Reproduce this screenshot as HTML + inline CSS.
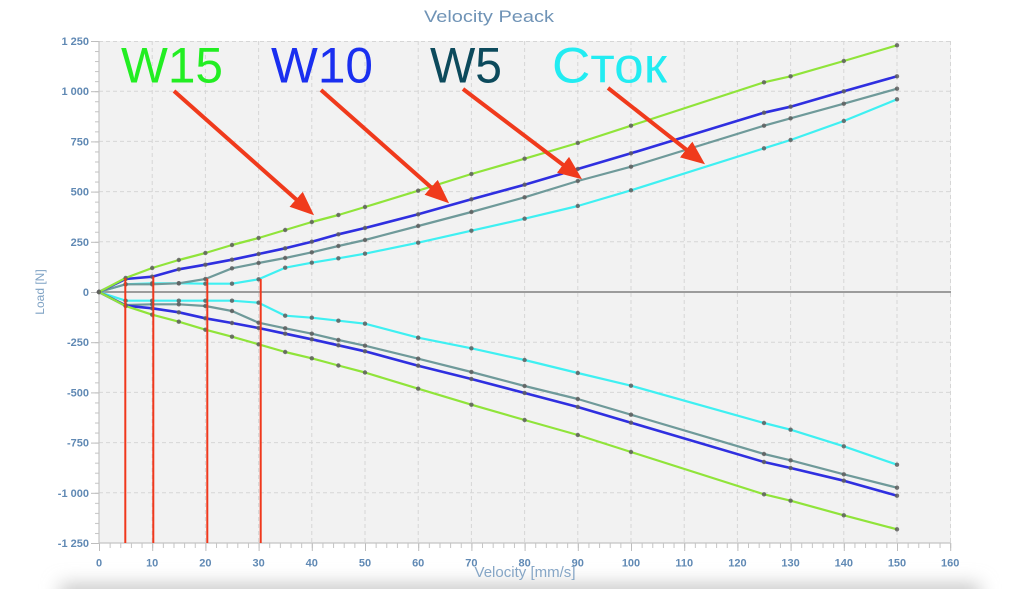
<!DOCTYPE html>
<html><head><meta charset="utf-8"><style>
html,body{margin:0;padding:0;background:#fff;}
svg{display:block;}
text{font-family:"Liberation Sans",Arial,sans-serif;}
</style></head><body>
<svg width="1024" height="589" viewBox="0 0 1024 589" xmlns="http://www.w3.org/2000/svg">
<defs>
<filter id="blur" x="-20%" y="-200%" width="140%" height="500%"><feGaussianBlur stdDeviation="9"/></filter>
<pattern id="ymin" x="0" y="41" width="10" height="10.04" patternUnits="userSpaceOnUse"><rect x="0" y="0" width="10" height="1" fill="#c4c4c4"/></pattern>
<pattern id="ymaj" x="0" y="41" width="10" height="50.2" patternUnits="userSpaceOnUse"><rect x="0" y="0" width="10" height="1" fill="#bdbdbd"/></pattern>
<pattern id="xmin" x="99" y="0" width="10.64" height="10" patternUnits="userSpaceOnUse"><rect x="0" y="0" width="1" height="10" fill="#c4c4c4"/></pattern>
<pattern id="xmaj" x="99" y="0" width="53.2" height="10" patternUnits="userSpaceOnUse"><rect x="0" y="0" width="1" height="10" fill="#bdbdbd"/></pattern>
<marker id="dot" markerUnits="userSpaceOnUse" markerWidth="6" markerHeight="6" refX="3" refY="3" viewBox="0 0 6 6"><circle cx="3" cy="3" r="2.2" fill="#5e5e5e" fill-opacity="0.85"/></marker>
<marker id="ah" markerUnits="userSpaceOnUse" markerWidth="24" markerHeight="20" refX="0.5" refY="5" viewBox="0 0 10 10" preserveAspectRatio="none" orient="auto"><path d="M0,0 L10,5 L0,10 z" fill="#f03a1c"/></marker>
</defs>

<!-- bottom shadow -->
<rect x="60" y="584" width="920" height="22" fill="#c8c8c8" filter="url(#blur)"/>

<!-- plot background -->
<rect x="99" y="41" width="852" height="502" fill="#f2f2f2"/>

<!-- grid -->
<g stroke="#d6d6d6" stroke-width="1" stroke-dasharray="4,3" fill="none">
<line x1="152.2" y1="41" x2="152.2" y2="543"/>
<line x1="205.4" y1="41" x2="205.4" y2="543"/>
<line x1="258.6" y1="41" x2="258.6" y2="543"/>
<line x1="311.8" y1="41" x2="311.8" y2="543"/>
<line x1="365" y1="41" x2="365" y2="543"/>
<line x1="418.2" y1="41" x2="418.2" y2="543"/>
<line x1="471.4" y1="41" x2="471.4" y2="543"/>
<line x1="524.6" y1="41" x2="524.6" y2="543"/>
<line x1="577.8" y1="41" x2="577.8" y2="543"/>
<line x1="631" y1="41" x2="631" y2="543"/>
<line x1="684.2" y1="41" x2="684.2" y2="543"/>
<line x1="737.4" y1="41" x2="737.4" y2="543"/>
<line x1="790.6" y1="41" x2="790.6" y2="543"/>
<line x1="843.8" y1="41" x2="843.8" y2="543"/>
<line x1="897" y1="41" x2="897" y2="543"/>
<line x1="950.5" y1="41" x2="950.5" y2="543"/>
<line x1="99" y1="41.5" x2="951" y2="41.5"/>
<line x1="99" y1="91.2" x2="951" y2="91.2"/>
<line x1="99" y1="141.4" x2="951" y2="141.4"/>
<line x1="99" y1="191.6" x2="951" y2="191.6"/>
<line x1="99" y1="241.8" x2="951" y2="241.8"/>
<line x1="99" y1="342.2" x2="951" y2="342.2"/>
<line x1="99" y1="392.4" x2="951" y2="392.4"/>
<line x1="99" y1="442.6" x2="951" y2="442.6"/>
<line x1="99" y1="492.8" x2="951" y2="492.8"/>
</g>

<!-- zero line -->
<line x1="99" y1="292" x2="951" y2="292" stroke="#9c9c9c" stroke-width="2"/>

<!-- axes & ticks -->
<rect x="95" y="41" width="4" height="503" fill="url(#ymin)"/>
<rect x="91" y="41" width="8" height="503" fill="url(#ymaj)"/>
<rect x="99" y="543" width="853" height="5" fill="url(#xmin)"/>
<rect x="99" y="543" width="853" height="8" fill="url(#xmaj)"/>
<line x1="99" y1="41" x2="99" y2="543.5" stroke="#c4c4c4" stroke-width="1.2"/>
<line x1="98.5" y1="543" x2="951" y2="543" stroke="#c4c4c4" stroke-width="1.2"/>

<!-- series -->
<g fill="none" stroke-linejoin="round" marker-start="url(#dot)" marker-mid="url(#dot)" marker-end="url(#dot)">
<polyline stroke="#3ff0f2" stroke-width="2.2" points="99,292 125.6,284.3 152.2,283.3 178.8,283.3 205.4,283.7 232,283.7 258.6,279.3 285.2,267.7 311.8,262.7 338.4,258.3 365,253.7 418.2,242.7 471.4,230.7 524.6,218.7 577.8,206 631,190.3 764,148.3 790.6,140 843.8,121 897,99.3"/>
<polyline stroke="#3ff0f2" stroke-width="2.2" points="99,292 125.6,300.7 152.2,300.7 178.8,300.7 205.4,300.7 232,300.7 258.6,302.7 285.2,315.7 311.8,317.7 338.4,320.7 365,323.7 418.2,337.7 471.4,348.3 524.6,360 577.8,373 631,385.7 764,423 790.6,429.7 843.8,446.3 897,464.7"/>
<polyline stroke="#6f9a9a" stroke-width="2.2" points="99,292 125.6,284.3 152.2,284.3 178.8,283.3 205.4,279 232,268.3 258.6,263 285.2,258 311.8,252.3 338.4,246 365,240 418.2,226 471.4,212 524.6,197.3 577.8,181 631,166.7 764,125.7 790.6,118.3 843.8,103.7 897,88.7"/>
<polyline stroke="#6f9a9a" stroke-width="2.2" points="99,292 125.6,305 152.2,304.3 178.8,304.3 205.4,306 232,311 258.6,322.7 285.2,328.3 311.8,333.7 338.4,340 365,345.7 418.2,358.7 471.4,372 524.6,386 577.8,399 631,414.7 764,454 790.6,460.3 843.8,474.3 897,487.7"/>
<polyline stroke="#2f2fe0" stroke-width="2.6" points="99,292 125.6,279 152.2,276.7 178.8,269.3 205.4,264.7 232,259.7 258.6,254 285.2,248.3 311.8,241.7 338.4,234.3 365,228 418.2,214.3 471.4,199.3 524.6,184.7 577.8,169 631,153.3 764,112.7 790.6,106.7 843.8,91.3 897,76.3"/>
<polyline stroke="#2f2fe0" stroke-width="2.6" points="99,292 125.6,305.7 152.2,308.3 178.8,312.3 205.4,318.3 232,323 258.6,328 285.2,333.7 311.8,339.3 338.4,345.3 365,351.3 418.2,365.7 471.4,379 524.6,393 577.8,407 631,422.7 764,462 790.6,468 843.8,480.7 897,495.7"/>
<polyline stroke="#90e43a" stroke-width="2.2" points="99,292 125.6,278 152.2,268 178.8,260 205.4,253 232,245 258.6,238 285.2,230 311.8,222 338.4,215 365,207 418.2,190.7 471.4,174 524.6,158.7 577.8,143 631,125.7 764,82.3 790.6,76.3 843.8,61 897,45.3"/>
<polyline stroke="#90e43a" stroke-width="2.2" points="99,292 125.6,306 152.2,314.7 178.8,321.7 205.4,329.7 232,336.7 258.6,344.3 285.2,352 311.8,358.3 338.4,365.5 365,372.5 418.2,388.7 471.4,404.7 524.6,420 577.8,435 631,452 764,494.3 790.6,500.7 843.8,515.3 897,529.3"/>
</g>

<!-- red verticals -->
<g stroke="#f0381c" stroke-width="2">
<line x1="125.3" y1="278" x2="125.3" y2="543"/>
<line x1="153.3" y1="276.5" x2="153.3" y2="543"/>
<line x1="207.3" y1="278.5" x2="207.3" y2="543"/>
<line x1="260.7" y1="279" x2="260.7" y2="543"/>
</g>

<!-- arrows -->
<g stroke="#f03a1c" stroke-width="4" stroke-linecap="butt" marker-end="url(#ah)">
<line x1="174" y1="91" x2="297" y2="200.1"/>
<line x1="321" y1="90" x2="432" y2="188.1"/>
<line x1="463" y1="89" x2="563.9" y2="165.5"/>
<line x1="608" y1="88" x2="687.1" y2="150.2"/>
</g>

<!-- big labels -->
<text x="121" y="82.5" font-size="50" fill="#22ee22" textLength="102" lengthAdjust="spacingAndGlyphs">W15</text>
<text x="271" y="82.5" font-size="50" fill="#1a2ff0" textLength="102" lengthAdjust="spacingAndGlyphs">W10</text>
<text x="430" y="82.5" font-size="50" fill="#0c4a5c" textLength="72" lengthAdjust="spacingAndGlyphs">W5</text>
<text x="552" y="82.5" font-size="50" fill="#22ecf2" textLength="115" lengthAdjust="spacingAndGlyphs">Сток</text>

<!-- title -->
<text x="489" y="22" font-size="17" fill="#6f93b6" text-anchor="middle" textLength="130" lengthAdjust="spacingAndGlyphs">Velocity Peack</text>

<!-- y tick labels -->
<g font-size="11" font-weight="bold" fill="#6089b4" text-anchor="end">
<text x="89" y="45">1 250</text>
<text x="89" y="95.2">1 000</text>
<text x="89" y="145.4">750</text>
<text x="89" y="195.6">500</text>
<text x="89" y="245.8">250</text>
<text x="89" y="296">0</text>
<text x="89" y="346.2">-250</text>
<text x="89" y="396.4">-500</text>
<text x="89" y="446.6">-750</text>
<text x="89" y="496.8">-1 000</text>
<text x="89" y="547">-1 250</text>
</g>

<!-- x tick labels -->
<g font-size="11" font-weight="bold" fill="#6089b4" text-anchor="middle">
<text x="99" y="566.5">0</text>
<text x="152.2" y="566.5">10</text>
<text x="205.4" y="566.5">20</text>
<text x="258.6" y="566.5">30</text>
<text x="311.8" y="566.5">40</text>
<text x="365" y="566.5">50</text>
<text x="418.2" y="566.5">60</text>
<text x="471.4" y="566.5">70</text>
<text x="524.6" y="566.5">80</text>
<text x="577.8" y="566.5">90</text>
<text x="631" y="566.5">100</text>
<text x="684.2" y="566.5">110</text>
<text x="737.4" y="566.5">120</text>
<text x="790.6" y="566.5">130</text>
<text x="843.8" y="566.5">140</text>
<text x="897" y="566.5">150</text>
<text x="950.2" y="566.5">160</text>
</g>

<!-- axis titles -->
<text x="525" y="577" font-size="15" fill="#86a6c6" text-anchor="middle" textLength="101" lengthAdjust="spacingAndGlyphs">Velocity [mm/s]</text>
<text transform="translate(44,292) rotate(-90)" font-size="12" fill="#7fa2c4" text-anchor="middle">Load [N]</text>
</svg>
</body></html>
